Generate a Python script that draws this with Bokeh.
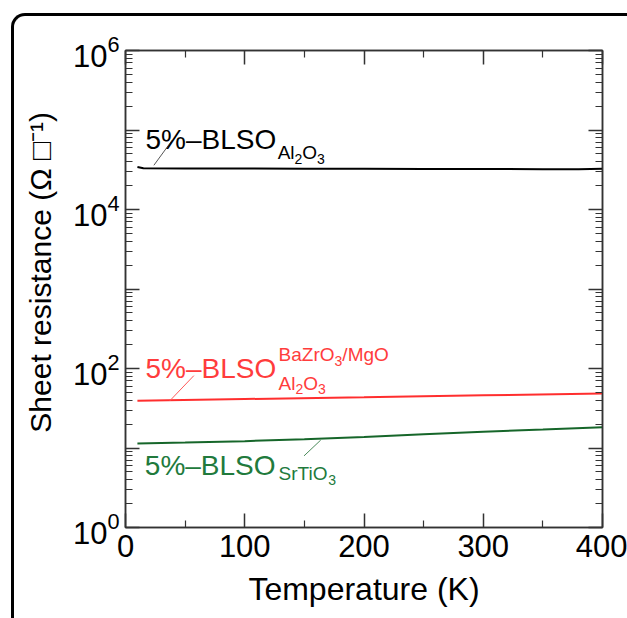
from bokeh.plotting import figure
from bokeh.models import (LogAxis, LinearAxis, FixedTicker, Label,
                          CustomJSTickFormatter, InlineStyleSheet)
from bokeh.embed import file_html
from bokeh.resources import INLINE

# ---------------- data ----------------
temp_al2o3 = [10, 15, 50, 100, 150, 200, 250, 300, 350, 380, 400]
rs_al2o3 = [3.43e4, 3.30e4, 3.28e4, 3.27e4, 3.26e4, 3.25e4, 3.24e4, 3.23e4, 3.22e4, 3.21e4, 3.25e4]

temp_bzo = [10, 100, 200, 300, 400]
rs_bzo = [39.3, 41.3, 43.5, 46.0, 48.6]

temp_sto = [10, 50, 100, 150, 200, 250, 300, 350, 400]
rs_sto = [11.4, 11.7, 12.2, 12.9, 13.8, 14.9, 16.0, 17.1, 18.3]

x_major = [0, 100, 200, 300, 400]
x_minor = [50, 150, 250, 350]
y_major = [1, 10, 100, 1000, 10000, 100000, 1000000]
y_minor = [m * d for d in [1, 10, 100, 1000, 10000, 100000] for m in range(2, 10)]
y_hidden = [10, 1000, 100000]

x_title = "Temperature (K)"
y_title = "Sheet resistance (Ω □⁻¹)"

series_colors = ["#000000", "#ff2e2e", "#16662a"]
text_colors = ["#000000", "#ff3c3c", "#217a3c"]
leader_colors = ["#555555", "#ff5a5a", "#4a8a5a"]

# label anchors (data coordinates: temperature, resistance)
main_text = "5%–BLSO"
main_x = [16.8, 16.8, 16.2]
main_y = [5.85e4, 77.3, 4.68]
# subscript / superscript parts: (text, is_small_digit)
sub_parts = [[("Al", False), ("2", True), ("O", False), ("3", True)],
             [("Al", False), ("2", True), ("O", False), ("3", True)],
             [("SrTiO", False), ("3", True)]]
sub_x = [127.6, 128.4, 128.4]
sub_y = [3.97e4, 50.0, 3.67]
sup_parts = [("BaZrO", False), ("3", True), ("/MgO", False)]
sup_x = 128.4
sup_y = 114.0
leader_x0 = [23.8, 37.2, 149.7]
leader_y0 = [3.6e4, 39.3, 7.96]
leader_x1 = [39.2, 57.3, 163.7]
leader_y1 = [7.45e4, 81.3, 12.57]

FONT = "Liberation Sans"
AX_COL = "#333333"
# advance widths (em) of Liberation Sans glyphs used in the sub/superscripts
ADV = {"A": 0.667, "l": 0.222, "O": 0.778, "S": 0.667, "r": 0.333, "T": 0.611,
       "i": 0.222, "B": 0.667, "a": 0.556, "Z": 0.611, "M": 0.833, "g": 0.556,
       "/": 0.278, "2": 0.556, "3": 0.556}
SUB_SIZE = 19
DIG_SIZE = 14
LIFT = 9  # baseline correction in pixels

p = figure(width=627, height=618, x_range=(0, 400), y_range=(1, 1e6),
           y_axis_type="log", output_backend="svg", toolbar_location=None,
           min_border_left=125, min_border_right=25, min_border_top=50,
           min_border_bottom=91)
p.grid.visible = False
p.outline_line_color = AX_COL
p.outline_line_width = 1.5
p.background_fill_color = "white"
p.border_fill_color = "white"


def style_axis(ax):
    ax.major_tick_in = 14
    ax.major_tick_out = 0
    ax.minor_tick_in = 7
    ax.minor_tick_out = 0
    ax.axis_line_color = AX_COL
    ax.axis_line_width = 1.5
    ax.major_tick_line_color = AX_COL
    ax.major_tick_line_width = 1.5
    ax.minor_tick_line_color = AX_COL
    ax.minor_tick_line_width = 1.2
    ax.major_label_text_font = FONT
    ax.major_label_text_font_size = "31px"
    ax.major_label_text_color = "black"
    ax.axis_label_text_font = FONT
    ax.axis_label_text_font_style = "normal"
    ax.axis_label_text_color = "black"


xa = p.xaxis[0]
xa.ticker = FixedTicker(ticks=x_major, minor_ticks=x_minor)
style_axis(xa)
xa.major_label_standoff = 7
xa.axis_label = x_title
xa.axis_label_text_font_size = "32px"
xa.axis_label_standoff = 11

ya = p.yaxis[0]
ya.ticker = FixedTicker(ticks=y_major, minor_ticks=y_minor)
style_axis(ya)
ya.major_label_standoff = 6
ya.major_label_overrides = {v: "" for v in y_hidden}
ya.axis_label = "\u00a0\u00a0\u00a0\u00a0" + y_title
ya.axis_label_text_font_size = "30px"
ya.axis_label_standoff = 13

blank = CustomJSTickFormatter(code="return ''")
top = LinearAxis(ticker=FixedTicker(ticks=x_major, minor_ticks=x_minor), formatter=blank)
style_axis(top)
top.major_label_text_font_size = "0px"
top.major_label_standoff = 0
p.add_layout(top, "above")

right = LogAxis(ticker=FixedTicker(ticks=y_major, minor_ticks=y_minor), formatter=blank)
style_axis(right)
right.major_label_text_font_size = "0px"
right.major_label_standoff = 0
p.add_layout(right, "right")

# data lines
for t, r, c in zip([temp_al2o3, temp_bzo, temp_sto], [rs_al2o3, rs_bzo, rs_sto], series_colors):
    p.line(t, r, line_color=c, line_width=2)

# leader lines
p.segment(x0=leader_x0, y0=leader_y0, x1=leader_x1, y1=leader_y1,
          line_color=leader_colors, line_width=1)


def add_script_text(parts, x, y, color):
    off = 0.0
    for txt, small in parts:
        size = DIG_SIZE if small else SUB_SIZE
        p.add_layout(Label(x=x, y=y, x_offset=off, y_offset=LIFT - (6 if small else 0),
                           text=txt, text_font=FONT, text_font_size=f"{size}px",
                           text_color=color, text_baseline="alphabetic",
                           text_align="left"))
        off += sum(ADV.get(ch, 0.6) for ch in txt) * size


for i in range(3):
    p.add_layout(Label(x=main_x[i], y=main_y[i], y_offset=LIFT, text=main_text,
                       text_font=FONT, text_font_size="28px", text_color=text_colors[i],
                       text_baseline="alphabetic", text_align="left"))
    add_script_text(sub_parts[i], sub_x[i], sub_y[i], text_colors[i])
add_script_text(sup_parts, sup_x, sup_y, text_colors[1])

# outer rounded frame of the panel (drawn with CSS on the figure element)
p.stylesheets = [InlineStyleSheet(css="""
:host { position: relative; }
:host::after {
  content: ""; position: absolute; left: 11px; top: 13px; right: 0; bottom: 0;
  border-top: 3px solid #000; border-left: 3px solid #000;
  border-top-left-radius: 14px; pointer-events: none; z-index: 10;
}
""")]

open("out.html", "w").write(file_html(p, INLINE))
